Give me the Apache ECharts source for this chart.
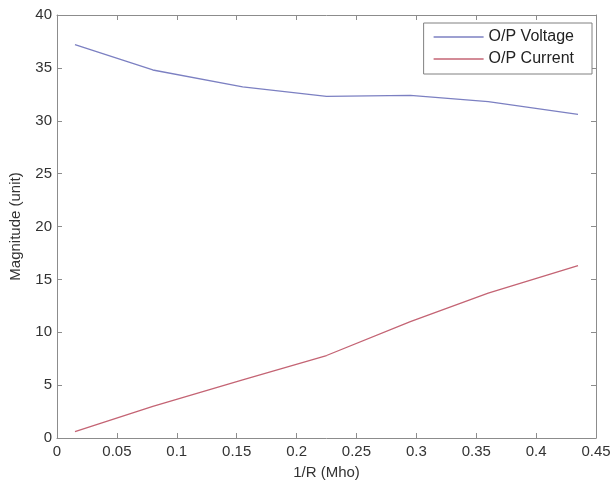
<!DOCTYPE html>
<html>
<head>
<meta charset="utf-8">
<script src="https://cdn.jsdelivr.net/npm/echarts@6/dist/echarts.min.js"></script>
<style>html,body{margin:0;padding:0;background:#fff;}#c{width:613px;height:483px;}</style>
</head>
<body>
<div id="c"></div>
<script>
const xValues = [0.015, 0.08, 0.155, 0.225, 0.295, 0.36, 0.435];
const voltage = [37.2, 34.8, 33.2, 32.3, 32.4, 31.8, 30.6];
const current = [0.6, 3.0, 5.5, 7.8, 11.0, 13.7, 16.3];
const xTicks = [0, 0.05, 0.1, 0.15, 0.2, 0.25, 0.3, 0.35, 0.4, 0.45];
const yTicks = [0, 5, 10, 15, 20, 25, 30, 35, 40];

const font = 'Liberation Sans, Arial, sans-serif';
const axisGray = '#8c8c8c';
const textColor = '#333';
const chart = echarts.init(document.getElementById('c'));
const baseX = {
  type: 'value', min: 0, max: 0.45, interval: 0.05,
  axisLine: {show: true, onZero: false, lineStyle: {color: axisGray, width: 1}},
  axisTick: {show: true, inside: true, length: 5, lineStyle: {color: axisGray}},
  splitLine: {show: false}
};
const baseY = {
  type: 'value', min: 0, max: 40, interval: 5,
  axisLine: {show: true, onZero: false, lineStyle: {color: axisGray, width: 1}},
  axisTick: {show: true, inside: true, length: 5, lineStyle: {color: axisGray}},
  splitLine: {show: false}
};
chart.setOption({
  animation: false,
  backgroundColor: '#fff',
  grid: {left: 57, right: 17, top: 15, bottom: 45, containLabel: false, outerBoundsMode: 'none'},
  legend: {
    orient: 'vertical', right: 21, top: 23,
    data: ['O/P Voltage', 'O/P Current'],
    backgroundColor: '#fff',
    borderColor: '#808080', borderWidth: 1,
    padding: [5, 18, 6, 10],
    itemGap: 4, itemWidth: 50, itemHeight: 1.5, icon: 'rect',
    textStyle: {fontFamily: font, fontSize: 16, color: '#222', lineHeight: 18}
  },
  xAxis: [
    Object.assign({}, baseX, {
      position: 'bottom',
      name: '1/R (Mho)', nameLocation: 'middle', nameGap: 27,
      nameTextStyle: {fontFamily: font, fontSize: 15, color: textColor},
      axisLabel: {fontFamily: font, fontSize: 15, color: textColor, margin: 6,
        formatter: v => xTicks.includes(+v.toFixed(2)) ? String(+v.toFixed(2)) : ''}
    }),
    Object.assign({}, baseX, {position: 'top', axisLabel: {show: false}})
  ],
  yAxis: [
    Object.assign({}, baseY, {
      position: 'left',
      name: 'Magnitude (unit)', nameLocation: 'middle', nameGap: 34,
      nameTextStyle: {fontFamily: font, fontSize: 15, color: textColor},
      axisLabel: {fontFamily: font, fontSize: 15, color: textColor, margin: 5,
        formatter: v => yTicks.includes(v) ? String(v) : ''}
    }),
    Object.assign({}, baseY, {position: 'right', axisLabel: {show: false}})
  ],
  series: [
    {name: 'O/P Voltage', type: 'line', symbol: 'none', smooth: false,
     data: xValues.map((x, i) => [x, voltage[i]]),
     lineStyle: {color: '#7c80c2', width: 1.3}, itemStyle: {color: '#7c80c2'}},
    {name: 'O/P Current', type: 'line', symbol: 'none', smooth: false,
     data: xValues.map((x, i) => [x, current[i]]),
     lineStyle: {color: '#c46474', width: 1.3}, itemStyle: {color: '#c46474'}}
  ]
});
</script>
</body>
</html>
